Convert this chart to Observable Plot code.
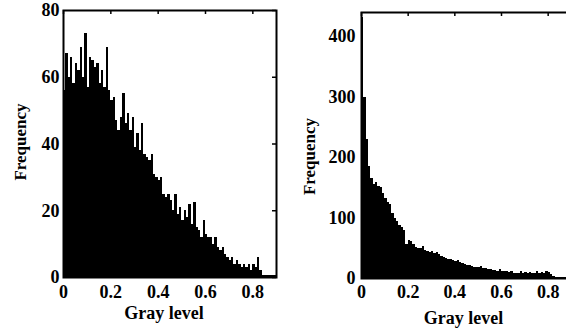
<!DOCTYPE html>
<html><head><meta charset="utf-8">
<script src="https://cdn.jsdelivr.net/npm/d3@7"></script>
<script src="https://cdn.jsdelivr.net/npm/@observablehq/plot@0.6"></script>
<style>
html,body{margin:0;padding:0;background:#fff;overflow:hidden}
#wrap{position:relative;width:566px;height:329px;overflow:hidden;background:#fff}
#left{position:absolute;left:0;top:0;width:283px}
#right{position:absolute;left:283px;top:0;width:300px}
svg{max-width:none !important}
</style></head><body>
<div id="wrap"><div id="left"></div><div id="right"></div></div>
<script>
// Histogram bin width (gray level)
const binWidth = 0.01;

// Left histogram: frequency per gray-level bin (0.00 .. 0.90)
const leftFreq = [
  56, 67, 60, 66, 58, 64, 62, 69, 60, 73,
  57, 66, 65, 63, 64, 58, 62, 57, 69, 56,
  53, 54, 47, 44, 48, 55, 46, 49, 44, 48,
  39, 43, 38, 46, 37, 36, 35, 37, 31, 30,
  29, 30, 25, 24, 25, 23, 20, 25, 19, 21,
  17, 20, 18, 22, 16, 22.5, 15, 14, 12, 17,
  13, 12, 12, 10, 12, 9, 8, 9, 7, 6,
  5, 6, 4, 5, 4, 3, 4, 3, 4, 2,
  4, 3, 6, 2, 0.5, 0.5, 0.5, 0.5, 0.5, 0.5
];

// Right histogram: frequency per gray-level bin (0.00 .. 0.90)
const rightFreq = [
  432, 300, 230, 185, 165, 155, 158, 152, 150, 140,
  132, 125, 122, 108, 100, 94, 88, 84, 80, 56,
  63, 61, 57, 52, 50, 49, 53, 47, 45, 43,
  44, 42, 43, 40, 36, 34, 33, 31, 31, 29,
  28, 29, 26, 24, 23, 22, 21, 20, 19, 18,
  19, 20, 17, 16, 15, 15, 14, 13, 12, 15,
  12, 11, 12, 10, 11, 9, 8, 8, 12, 9,
  10, 9, 10, 9, 8, 11, 9, 10, 9, 11,
  10, 7, 3, 2, 2, 2, 2, 2, 2, 2
];

const xTicks = [0, 0.2, 0.4, 0.6, 0.8];
const xTickLabels = ["0", "0.2", "0.4", "0.6", "0.8"];
const leftYTicks = [0, 20, 40, 60, 80];
const rightYTicks = [0, 100, 200, 300, 400];
const xLabel = "Gray level";
const yLabel = "Frequency";

function bins(freq) {
  return freq.map((f, i) => ({x1: i * binWidth, x2: (i + 1) * binWidth, f}));
}

function panel(o) {
  const H = 329;
  const fw = o.width - o.ml - o.mr;
  const fh = H - o.mt - o.mb;
  return Plot.plot({
    width: o.width, height: H,
    marginLeft: o.ml, marginRight: o.mr, marginTop: o.mt, marginBottom: o.mb,
    x: {domain: [0, 0.9]},
    y: {domain: [0, o.yMax]},
    style: {fontFamily: "'Liberation Serif', 'DejaVu Serif', serif", fontSize: "17px", fontWeight: "bold", color: "black", background: "transparent", overflow: "visible", maxWidth: "none"},
    marks: [
      Plot.rectY(bins(o.freq), {x1: "x1", x2: "x2", y1: 0, y2: "f", fill: "black", inset: 0, shapeRendering: "crispEdges"}),
      Plot.frame({stroke: "black", strokeWidth: 2}),
      Plot.tickX(xTicks, {x: d => d, stroke: "black", strokeWidth: 1.5, insetBottom: fh - 4}),
      Plot.tickY(o.yTicks, {y: d => d, stroke: "black", strokeWidth: 1.5, insetLeft: fw - 4}),
      Plot.axisX(xTicks, {anchor: "bottom", tickSize: 0, tickPadding: o.xPad, label: null,
        tickFormat: d => xTickLabels[xTicks.indexOf(d)], fontSize: 18}),
      Plot.axisY(o.yTicks, {anchor: "left", tickSize: 0, tickPadding: o.yPad, label: null, fontSize: 18}),
      Plot.text([yLabel], {frameAnchor: "left", textAnchor: "middle", lineAnchor: "middle", rotate: -90, dx: o.yLabDx, dy: o.yLabDy, fontSize: 17}),
      Plot.text([xLabel], {frameAnchor: "bottom", textAnchor: "middle", lineAnchor: "middle", dx: o.xLabDx, dy: o.xLabDy, fontSize: 18})
    ]
  });
}

document.getElementById("left").append(panel({
  freq: leftFreq, yMax: 80, yTicks: leftYTicks,
  width: 283, ml: 63, mr: 7, mt: 10, mb: 52,
  xPad: 8, yPad: 4, yLabDx: -43, yLabDy: -2, xLabDx: -6, xLabDy: 36
}));

document.getElementById("right").append(panel({
  freq: rightFreq, yMax: 440, yTicks: rightYTicks,
  width: 300, ml: 78, mr: 12, mt: 12, mb: 51,
  xPad: 7, yPad: 6, yLabDx: -52, yLabDy: 11, xLabDx: -3, xLabDy: 40
}));
</script>
</body></html>
